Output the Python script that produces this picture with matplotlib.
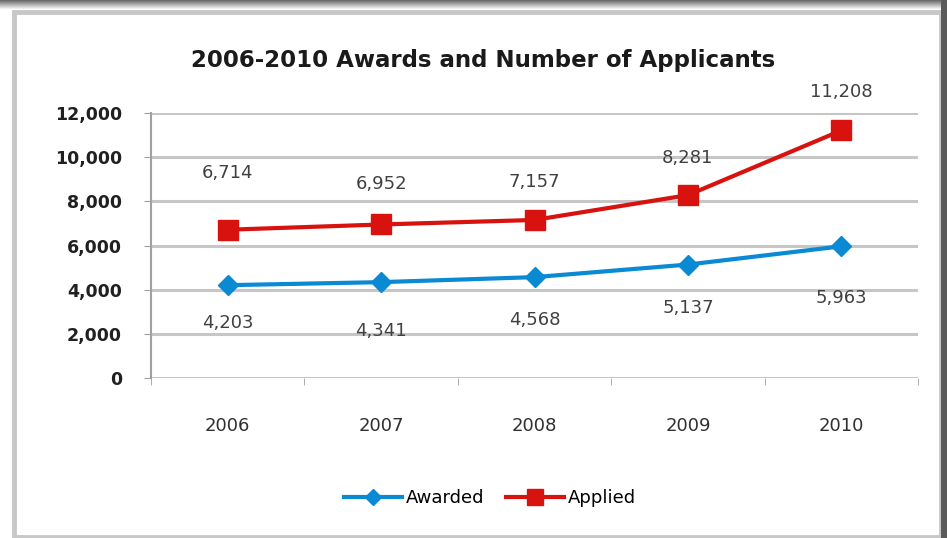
import numpy as np
import matplotlib
matplotlib.use('Agg')
import matplotlib.pyplot as plt
from matplotlib.patches import Rectangle

# Chart data
years = ['2006', '2007', '2008', '2009', '2010']
awarded = [4203, 4341, 4568, 5137, 5963]
applied = [6714, 6952, 7157, 8281, 11208]
y_ticks = [0, 2000, 4000, 6000, 8000, 10000, 12000]

# label offsets in points (Excel labels were nudged by hand)
applied_off = [41, 29, 27, 27, 28]
awarded_off = [-27, -35, -31, -31, -37]

blue = '#0a8ad2'
red = '#d8120e'

fig = plt.figure(figsize=(9.47, 5.38), dpi=100)
fig.patch.set_facecolor('white')

# screenshot frame: shadow on top, dark band right, light border
grad = np.linspace(0.4, 0.97, 40).reshape(-1, 1)
sh = fig.add_axes([0, 1 - 9 / 538, 1, 9 / 538])
sh.imshow(grad, cmap='gray', vmin=0, vmax=1, aspect='auto', extent=[0, 1, 0, 1])
sh.axis('off')
fig.patches.append(Rectangle((14 / 947, 1 / 538), 941 / 947 - 14 / 947, 1 - 12 / 538 - 1 / 538,
                             transform=fig.transFigure, facecolor='none',
                             edgecolor='#c8c8c8', linewidth=3.5, zorder=0))
fig.patches.append(Rectangle((941 / 947, 0), 6 / 947, 1,
                             transform=fig.transFigure, facecolor='#5a5a5a',
                             edgecolor='none', zorder=1))

ax = fig.add_axes([151 / 947, 1 - 378 / 538, (918 - 151) / 947, (378 - 113) / 538])
x = np.arange(len(years))

for t in y_ticks:
    ax.axhline(t, color='#c6c6c6', linewidth=2.2, zorder=1)

ax.plot(x, awarded, color=blue, linewidth=3, marker='D', markersize=10,
        markeredgecolor=blue, label='Awarded', zorder=3)
ax.plot(x, applied, color=red, linewidth=3, marker='s', markersize=15,
        markeredgecolor=red, label='Applied', zorder=3)

for xi, v, o in zip(x, applied, applied_off):
    ax.annotate(f'{v:,}', (xi, v), xytext=(0, o), textcoords='offset points',
                ha='center', va='center', fontsize=13, color='#404040')
for xi, v, o in zip(x, awarded, awarded_off):
    ax.annotate(f'{v:,}', (xi, v), xytext=(0, o), textcoords='offset points',
                ha='center', va='center', fontsize=13, color='#404040')

ax.set_xlim(-0.5, len(years) - 0.5)
ax.set_ylim(0, 12000)
ax.set_yticks(y_ticks)
ax.set_yticklabels([f'{t:,}' for t in y_ticks], fontsize=12.5, fontweight='bold',
                   color='#202020')
ax.set_xticks(x)
ax.set_xticklabels(years, fontsize=13, color='#303030')
ax.set_xticks(np.arange(-0.5, len(years), 1), minor=True)
ax.tick_params(axis='x', which='major', length=0, pad=28)
ax.tick_params(axis='x', which='minor', length=5, color='#a0a0a0', direction='out')
ax.tick_params(axis='y', length=5, color='#a0a0a0', pad=16)
for s in ['top', 'right', 'bottom']:
    ax.spines[s].set_visible(False)
ax.spines['left'].set_color('#a0a0a0')
ax.spines['left'].set_linewidth(1.5)

fig.text(483 / 947, 1 - 60 / 538, '2006-2010 Awards and Number of Applicants',
         ha='center', va='center', fontsize=16.5, fontweight='bold', color='#1a1a1a')

leg = fig.legend(loc='center', bbox_to_anchor=(490 / 947, 1 - 498 / 538), ncol=2,
                 frameon=False, fontsize=13, handlelength=3.2, columnspacing=1.2,
                 handletextpad=0.2, markerscale=0.8)

fig.savefig('out.png', dpi=100)
